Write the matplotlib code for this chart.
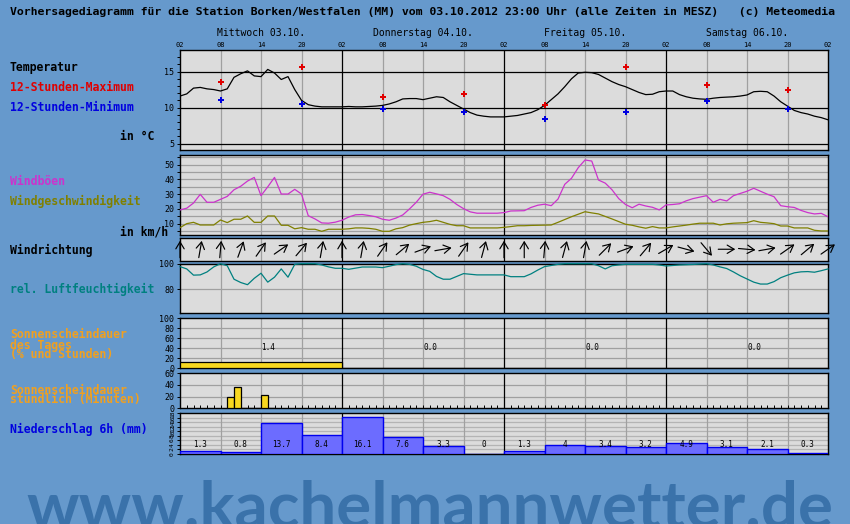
import matplotlib
matplotlib.use('Agg')
import matplotlib.pyplot as plt
import matplotlib.transforms as mtransforms
import numpy as np

# ---- data (hours counted from 02:00 on 03.10.) ----
temp = [11.6, 11.9, 12.7, 12.8, 12.6, 12.5, 12.3, 12.6, 14.2, 14.7,
        15.1, 14.4, 14.3, 15.3, 14.8, 13.9, 14.3, 12.5, 11.0, 10.4,
        10.2, 10.1, 10.1, 10.1, 10.1, 10.15, 10.1, 10.1, 10.15, 10.2,
        10.3, 10.5, 10.8, 11.2, 11.25, 11.25, 11.1, 11.3, 11.5, 11.4,
        10.8, 10.3, 9.8, 9.3, 8.95, 8.8, 8.7, 8.7, 8.7, 8.8,
        8.9, 9.1, 9.3, 9.7, 10.3, 11.1, 11.9, 12.9, 14.0, 14.8,
        14.9, 14.85, 14.6, 14.1, 13.6, 13.2, 12.9, 12.5, 12.1, 11.8,
        11.85, 12.2, 12.3, 12.3, 11.8, 11.5, 11.3, 11.2, 11.15, 11.3,
        11.4, 11.45, 11.5, 11.6, 11.75, 12.2, 12.26, 12.2, 11.6, 10.8,
        10.2, 9.6, 9.3, 9.1, 8.8, 8.6, 8.3]
minmax_hours = [6, 18, 30, 42, 54, 66, 78, 90]
tmax = [13.5, 15.7, 11.5, 11.9, 10.4, 15.6, 13.2, 12.5]
tmin = [11.0, 10.55, 9.75, 9.45, 8.35, 9.45, 10.85, 9.75]

gusts = [19.3, 20.5, 24, 29.9, 24.5, 24.5, 26.5, 28.5, 33, 35.4,
         38.9, 41.4, 29.0, 35, 41.4, 30.1, 30.1, 33.3, 30.1, 15.4,
         13.2, 10.5, 10.3, 11, 12.3, 14.5, 16, 16.2, 15.5, 14.7,
         13, 12.3, 13.8, 15.9, 20, 24.5, 30, 31.3, 30.2, 29.0,
         26.5, 23, 20.2, 18, 17.1, 17.1, 17.1, 17.1, 17.5, 18.6,
         18.7, 18.8, 21, 22.5, 23.2, 22.2, 26.7, 36.7, 40.8, 48,
         53.2, 52.5, 39.6, 37.5, 33, 27, 23, 20.8, 23.2, 22,
         21.1, 19.3, 22.7, 23, 23.5, 25.5, 27, 28, 29, 24.5,
         26.5, 25.4, 29, 30.5, 32, 34, 32, 30, 28.3, 22.2,
         21.5, 21, 19, 17.5, 16.6, 17, 14.7]
wind = [7.3, 10.0, 10.9, 9.1, 9.1, 9.1, 12.5, 10.7, 13.0, 13.0,
        15.2, 10.9, 10.9, 15.2, 15.2, 8.9, 8.9, 6.5, 7.3, 6.2,
        6.2, 4.8, 6.2, 6.2, 6.2, 6.5, 7.1, 7.1, 6.8, 6.2,
        4.8, 4.8, 6.5, 7.3, 9.0, 10, 10.9, 11.4, 12.3, 10.9,
        9.5, 8.6, 8.6, 7.1, 7.1, 7.1, 7.1, 7.1, 7.5, 8.0,
        8.6, 8.6, 8.8, 8.9, 9.0, 9.1, 10.9, 12.8, 14.7, 16.4,
        18.1, 17.3, 16.6, 14.9, 13.2, 11.4, 9.6, 8.9, 7.8, 6.9,
        8.0, 7.1, 7.1, 7.8, 8.4, 9.0, 9.7, 10.3, 10.3, 10.3,
        9.1, 9.9, 10.3, 10.5, 10.7, 12.0, 10.9, 10.5, 10.0, 8.4,
        8.4, 7.1, 7.1, 7.1, 5.5, 5.05, 5.05]

wind_dir_hours = list(range(0, 97, 3))
# direction the arrow points, degrees clockwise from up
wind_dir = [0, 10, 5, 20, 35, 55, 40, 10, 0, 10,
            35, 50, 70, 80, 35, 15, 0, 0, 5, 15,
            10, 45, 70, 40, 60, 105, 140, 90, 95, 80,
            55, 50, 55]

humidity = [97.7, 95.9, 91, 91.2, 93.5, 97.5, 100, 98.4, 87.8, 85.2,
            83.5, 88.5, 92.5, 85.5, 89.4, 95.9, 89.4, 99.5, 100, 100,
            100, 99, 97.5, 96.4, 96.4, 95.6, 96.5, 97.4, 97.4, 97.4,
            96.9, 98, 99.3, 100, 99.5, 98, 95.5, 94, 90, 87.8,
            87.8, 90, 92.2, 91.7, 91.2, 91.2, 91.2, 91.2, 91.2, 89.8,
            89.8, 89.8, 92, 95, 97.7, 98.6, 99.5, 100, 100, 100,
            100, 100, 98.4, 95.9, 98.4, 99, 99.5, 99.5, 99.5, 99.5,
            99.5, 99, 98.2, 98.6, 99, 99.2, 99.4, 99.7, 100, 99,
            97.5, 96.2, 93.5, 90.5, 88, 85.5, 84, 84, 85.9, 89,
            91, 92.8, 93.6, 93.8, 93.3, 94.5, 95.9]

day_names = ['Mittwoch 03.10.', 'Donnerstag 04.10.', 'Freitag 05.10.', 'Samstag 06.10.']
sun_day_pct = [12, 0, 0, 0]
sun_day_hours = [1.4, 0.0, 0.0, 0.0]
sun_hour_start = [7, 8, 9, 10, 11, 12, 13]
sun_hour_min = [20, 36, 0, 0, 0, 22, 0]
prec_6h = [1.3, 0.8, 13.7, 8.4, 16.1, 7.6, 3.3, 0, 1.3, 4, 3.4, 3.2, 4.9, 3.1, 2.1, 0.3]

# ---- layout ----
W, H = 850, 524
BG = '#6699cc'
PANEL = '#dcdcdc'
GRID = '#a0a0a0'
MONO = 'DejaVu Sans Mono'

fig = plt.figure(figsize=(W / 100, H / 100), dpi=100)
fig.patch.set_facecolor(BG)


def panel(top, bottom):
    ax = fig.add_axes([180 / W, 1 - bottom / H, 648 / W, (bottom - top) / H])
    ax.set_facecolor(PANEL)
    ax.set_xlim(0, 96)
    ax.set_xticks([])
    for s in ax.spines.values():
        s.set_linewidth(1.0)
        s.set_color('black')
    for h in range(6, 96, 6):
        if h % 24 == 0:
            ax.axvline(h, color='black', lw=0.9, zorder=2.5)
        else:
            ax.axvline(h, color=GRID, lw=0.9, zorder=1.5)
    ax.tick_params(axis='y', which='both', labelsize=6, length=2.2, width=0.7,
                   pad=2, labelfontfamily=MONO)
    return ax


def side(x, y, s, color, **kw):
    fig.text(x / W, 1 - y / H, s, color=color, family=MONO, weight='bold',
             fontsize=8.3, va='center', ha='left', **kw)


hours = np.arange(len(temp))

fig.text(10 / W, 1 - 12.3 / H,
         'Vorhersagediagramm für die Station Borken/Westfalen (MM) vom 03.10.2012 '
         '23:00 Uhr (alle Zeiten in MESZ)   (c) Meteomedia',
         family=MONO, weight='bold', fontsize=8.25, va='center', ha='left')

# temperature
ax_t = panel(50, 150)
ax_t.set_ylim(4.1, 18)
ax_t.set_yticks([5, 10, 15])
ax_t.set_yticks(range(5, 18), minor=True)
for v in [5, 10, 15]:
    ax_t.axhline(v, color='black', lw=0.9, zorder=2)
ax_t.plot(hours, temp, color='black', lw=0.9, zorder=3)
ax_t.scatter(minmax_hours, tmax, marker='P', s=16, color='#e00000', zorder=4, linewidths=0)
ax_t.scatter(minmax_hours, tmin, marker='P', s=16, color='#0000e0', zorder=4, linewidths=0)

trans = mtransforms.blended_transform_factory(ax_t.transData, fig.transFigure)
for h in range(0, 97, 6):
    ax_t.text(h, 1 - 45 / H, '%02d' % ((2 + h) % 24), transform=trans,
              ha='center', va='center', fontsize=5, family=MONO)
for d, name in enumerate(day_names):
    ax_t.text(12 + 24 * d, 1 - 33 / H, name, transform=trans,
              ha='center', va='center', fontsize=7, family=MONO)

side(10, 67.3, 'Temperatur', 'black')
side(10, 87.3, '12-Stunden-Maximum', '#e00000')
side(10, 107.3, '12-Stunden-Minimum', '#0000e0')
side(120, 136.7, 'in °C', 'black')

# wind
ax_w = panel(155, 235)
ax_w.set_ylim(2.3, 56.6)
ax_w.set_yticks(range(10, 51, 10))
ax_w.set_yticks(range(5, 56, 5), minor=True)
for v in range(5, 56, 5):
    ax_w.axhline(v, color=GRID, lw=0.9, zorder=1)
ax_w.plot(hours, gusts, color='#cc33cc', lw=0.9, zorder=3)
ax_w.plot(hours, wind, color='#808000', lw=0.9, zorder=3)
side(10, 181.7, 'Windböen', '#cc33cc')
side(10, 201.7, 'Windgeschwindigkeit', '#808000')
side(120, 232.3, 'in km/h', 'black')

# wind direction
ax_d = panel(238, 260.5)
ax_d.set_ylim(0, 1)
ax_d.set_yticks([])
for h, a in zip(wind_dir_hours, wind_dir):
    r = np.deg2rad(a)
    dx, dy = 8.5 * np.sin(r), 8.5 * np.cos(r)
    head = mtransforms.offset_copy(ax_d.transData, x=dx, y=dy, units='dots')
    tail = mtransforms.offset_copy(ax_d.transData, x=-dx, y=-dy, units='dots')
    ax_d.annotate('', xy=(h, 0.5), xycoords=head, xytext=(h, 0.5), textcoords=tail,
                  arrowprops=dict(arrowstyle='->,head_length=0.5,head_width=0.3',
                                  color='black', lw=0.85, shrinkA=0, shrinkB=0),
                  annotation_clip=False, zorder=4)
side(10, 250.3, 'Windrichtung', 'black')

# humidity
ax_h = panel(263.7, 313.3)
ax_h.set_ylim(61, 100)
ax_h.set_yticks([80, 100])
ax_h.axhline(80, color=GRID, lw=0.9, zorder=1)
ax_h.plot(hours, humidity, color='#008080', lw=0.9, zorder=3, clip_on=False)
side(10, 289.7, 'rel. Luftfeuchtigkeit', '#008080')

# daily sunshine
ax_s = panel(318.3, 368.3)
ax_s.set_ylim(0, 100)
ax_s.set_yticks(range(0, 101, 20))
for v in range(20, 100, 20):
    ax_s.axhline(v, color=GRID, lw=0.9, zorder=1)
ax_s.bar([24 * d for d in range(4)], sun_day_pct, width=24, align='edge',
         color='#f8d820', edgecolor='black', lw=0.9, zorder=3)
for d, v in enumerate(sun_day_hours):
    ax_s.text(12 + 24 * d, 42, '%.1f' % v, ha='left', va='center',
              fontsize=5.5, family=MONO, zorder=4)
side(10, 335, 'Sonnenscheindauer', '#f0a020')
side(10, 345, 'des Tages', '#f0a020')
side(10, 354.3, '(% und Stunden)', '#f0a020')

# hourly sunshine
ax_u = panel(373.3, 408.3)
ax_u.set_ylim(0, 60)
ax_u.set_yticks([0, 20, 40, 60])
for v in [20, 40]:
    ax_u.axhline(v, color=GRID, lw=0.9, zorder=1)
ax_u.set_xticks(range(1, 96))
ax_u.set_xticklabels([])
ax_u.tick_params(axis='x', direction='in', length=2.5, width=0.7, bottom=True)
ax_u.bar(sun_hour_start, sun_hour_min, width=1, align='edge',
         color='#f8d820', edgecolor='black', lw=0.9, zorder=3)
side(10, 390, 'Sonnenscheindauer', '#f0a020')
side(10, 399.7, 'stündlich (Minuten)', '#f0a020')

# precipitation
ax_p = panel(413, 454)
ax_p.set_ylim(0, 18)
ax_p.set_yticks(range(0, 19, 2))
ax_p.tick_params(axis='y', labelsize=4.5, labelrotation=90, pad=1.5)
for v in range(2, 18, 2):
    ax_p.axhline(v, color='#b4b4b4', lw=0.9, zorder=1)
starts = list(range(0, 96, 6))
ax_p.bar(starts, prec_6h, width=6, align='edge', color='#6c6cff',
         edgecolor='#0000ee', lw=1.0, zorder=3)
for h, v in zip(starts, prec_6h):
    ax_p.text(h + 3, 4, '%g' % v, ha='center', va='center', fontsize=5.5,
              family=MONO, zorder=4)
side(10, 429.7, 'Niederschlag 6h (mm)', '#0000e0')

# watermark
wm = fig.text(26 / W, 1 - 527 / H, 'www.kachelmannwetter.de', family='Lato',
              weight='bold', fontsize=46, color='#3a72aa', va='baseline', ha='left')
fig.canvas.draw()
bb = wm.get_window_extent()
wm.set_fontsize(46 * 806 / bb.width)

fig.savefig('out.png', dpi=100, facecolor=BG)
